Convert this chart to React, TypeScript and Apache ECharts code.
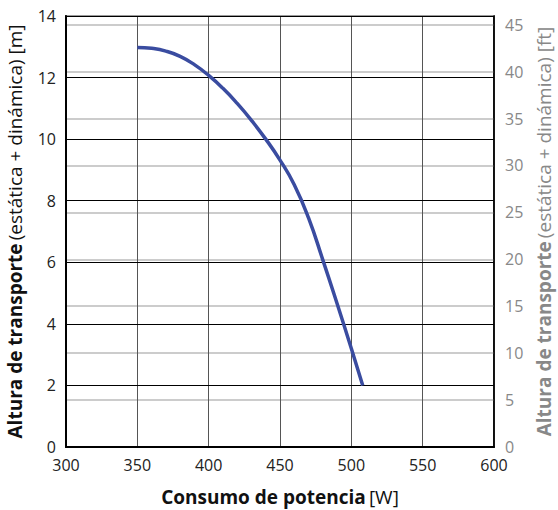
import React, { useEffect, useRef } from "react";
import * as echarts from "echarts";

const powerW = [350, 360, 370, 380, 390, 400, 410, 420, 430, 440, 450, 460, 470, 480, 490, 500, 508];
const headM = [12.98, 12.95, 12.86, 12.69, 12.42, 12.07, 11.65, 11.16, 10.61, 10.0, 9.32, 8.52, 7.44, 6.08, 4.66, 3.2, 2.0];
const xTicks = [300, 350, 400, 450, 500, 550, 600];
const mMax = 14;
const ftPerM = 3.28084;

export default function App() {
  const ref = useRef<HTMLDivElement>(null);
  useEffect(() => {
    document.body.style.margin = "0";
    if (!ref.current) return;
    const chart = echarts.init(ref.current, null, { renderer: "svg" });
    const font = "Open Sans";
    const tickFont = "Liberation Sans Narrow, Open Sans";
    chart.setOption({
      animation: false,
      textStyle: { fontFamily: font },
      grid: {
        left: 66, right: 64, top: 16, bottom: 63,
        show: true, borderColor: "#000", borderWidth: 1.5, containLabel: false,
        outerBoundsMode: "none",
      },
      xAxis: {
        type: "value",
        min: xTicks[0], max: xTicks[xTicks.length - 1], interval: 50,
        axisLine: { show: true, lineStyle: { color: "#000", width: 2 } },
        axisTick: { show: false },
        axisLabel: { color: "#222", fontSize: 16, margin: 10, fontFamily: tickFont },
        splitLine: { show: true, lineStyle: { color: "#555", width: 1 } },
        name: "{b|Consumo de potencia} {r|[W]}",
        nameLocation: "middle",
        nameGap: 40,
        nameTextStyle: {
          rich: {
            b: { fontWeight: "bold", fontSize: 19, color: "#111", fontFamily: font },
            r: { fontSize: 19, color: "#111", fontFamily: font },
          },
        },
      },
      yAxis: [
        {
          type: "value", min: 0, max: mMax, interval: 2, position: "left",
          axisLine: { show: true, lineStyle: { color: "#000", width: 2 } },
          axisTick: { show: false },
          axisLabel: { color: "#222", fontSize: 16, margin: 10, fontFamily: tickFont },
          splitLine: { show: true, lineStyle: { color: "#000", width: 1 } },
          name: "{b|Altura de transporte} {r|(estática + dinámica) [m]}",
          nameLocation: "middle", nameRotate: 90, nameGap: 42,
          nameTextStyle: {
            rich: {
              b: { fontWeight: "bold", fontSize: 19, color: "#111", fontFamily: font },
              r: { fontSize: 19, color: "#111", fontFamily: font },
            },
          },
          z: 3,
        },
        {
          type: "value", min: 0, max: mMax * ftPerM, interval: 5, position: "right",
          axisLine: { show: true, lineStyle: { color: "#000", width: 1.5 } },
          axisTick: { show: false },
          axisLabel: {
            color: "#888", fontSize: 16, margin: 11, fontFamily: tickFont,
            showMaxLabel: false,
            formatter: (v: number) => (Math.abs(v % 5) < 1e-6 ? String(v) : ""),
          },
          splitLine: { show: true, lineStyle: { color: "#bbb", width: 1.5 } },
          name: "{b|Altura de transporte} {r|(estática + dinámica) [ft]}",
          nameLocation: "middle", nameRotate: 90, nameGap: 39,
          nameTextStyle: {
            rich: {
              b: { fontWeight: "bold", fontSize: 19, color: "#888", fontFamily: font },
              r: { fontSize: 19, color: "#888", fontFamily: font },
            },
          },
        },
      ],
      series: [
        {
          type: "line",
          yAxisIndex: 0,
          data: powerW.map((w, i) => [w, headM[i]]),
          smooth: true,
          showSymbol: false,
          lineStyle: { color: "#3a4ca0", width: 3.5 },
          z: 5,
        },
      ],
    });
    return () => chart.dispose();
  }, []);
  return <div ref={ref} style={{ width: 558, height: 510 }} />;
}
